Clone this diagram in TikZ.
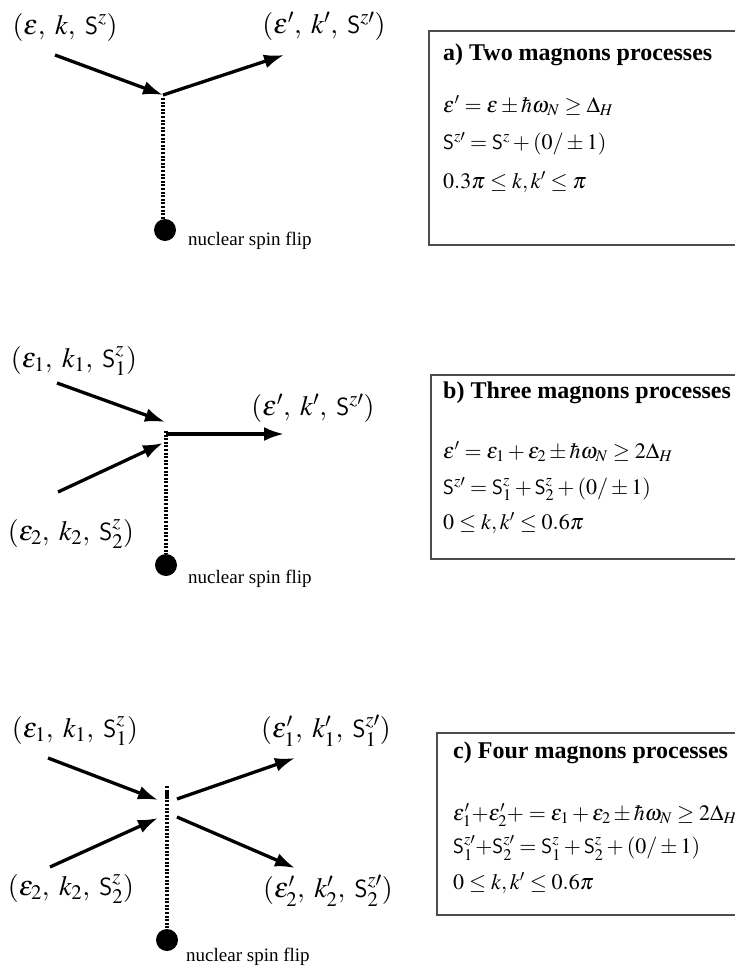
\documentclass[tikz,border=0pt]{standalone}
\usepackage{mathptmx}
\usepackage{fontspec}
\setmainfont{Liberation Serif}
\setsansfont{Liberation Sans}
\usetikzlibrary{arrows.meta}
\newcommand{\Sv}{\mathsf{S}}
\newcommand{\cm}{,\mkern4mu}
\begin{document}
\begin{tikzpicture}[x=1pt,y=-1pt]
\tikzset{
 arr/.style={line width=3.3pt, -{Latex[length=20pt,width=14pt]}},
 dots/.style={line width=3.4pt, dash pattern=on 2pt off 1.6pt},
 lbl/.style={font=\fontsize{28}{33}\selectfont, inner sep=0pt},
 boxs/.style={draw=black!70, line width=1.4pt},
 ttl/.style={font=\fontsize{24}{29}\selectfont\bfseries, anchor=west, inner sep=0pt},
 eq/.style={font=\fontsize{22}{26}\selectfont, anchor=west, inner sep=0pt},
 nsf/.style={font=\fontsize{19}{22}\selectfont, anchor=west, inner sep=0pt},
 spin/.style={circle, fill=black, minimum size=22pt, inner sep=0pt},
}
\clip (0,0) rectangle (735,969);
\fill[white] (0,0) rectangle (735,969);

% ---------------- a) ----------------
\node[lbl] (a1) at (65,27) {$(\varepsilon\cm k\cm \Sv^{z})$};
\node[lbl] (a2) at (324,26) {$(\varepsilon'\cm k'\cm \Sv^{z\prime})$};
\coordinate (aS) at (55,55);
\coordinate (aV) at (163,95);
\coordinate (aE) at (284,55);
\node[spin] (aD) at (165,230) {};
\node[nsf] (aN) at (188,241) {nuclear spin flip};
\draw[arr] (aS) -- (aV);
\draw[arr] (aV) -- (aE);
\draw[dots] ([yshift=-3pt]aV) -- (aV |- aD.north);

\draw[boxs] (429,31) rectangle (760,245);
\node[ttl] (aT) at (443,55) {a) Two magnons processes};
\node[eq] (aE1) at (443,106) {$\varepsilon' = \varepsilon \pm \hbar\omega_{N} \geq \Delta_{H}$};
\node[eq] (aE2) at (443,144) {$\Sv^{z\prime} = \Sv^{z} + (0/\pm 1)$};
\node[eq] (aE3) at (443,182) {$0.3\pi \leq k, k' \leq \pi$};

% ---------------- b) ----------------
\node[lbl] (b1) at (74,361) {$(\varepsilon_{1}\cm k_{1}\cm \Sv^{z}_{1})$};
\node[lbl] (b2) at (313,408) {$(\varepsilon'\cm k'\cm \Sv^{z\prime})$};
\node[lbl] (b3) at (71,534) {$(\varepsilon_{2}\cm k_{2}\cm \Sv^{z}_{2})$};
\coordinate (bS1) at (57,383);
\coordinate (bS2) at (58,492);
\coordinate (bV1) at (165,422);
\coordinate (bV2) at (163,443);
\coordinate (bH) at (166,434);
\coordinate (bE) at (284,434);
\node[spin] (bD) at (166,565) {};
\node[nsf] (bN) at (188,579) {nuclear spin flip};
\draw[arr] (bS1) -- (bV1);
\draw[arr] (bS2) -- (bV2);
\draw[arr] (bH) -- (bE);
\draw[dots] ([yshift=3pt]bH) -- (bH |- bD.north);

\draw[boxs] (431,375) rectangle (760,559);
\node[ttl] (bT) at (443,393) {b) Three magnons processes};
\node[eq] (bE1) at (443,452) {$\varepsilon' = \varepsilon_{1} + \varepsilon_{2} \pm \hbar\omega_{N} \geq 2\Delta_{H}$};
\node[eq] (bE2) at (443,489) {$\Sv^{z\prime} = \Sv^{z}_{1} + \Sv^{z}_{2} + (0/\pm 1)$};
\node[eq] (bE3) at (443,523) {$0 \leq k, k' \leq 0.6\pi$};

% ---------------- c) ----------------
\node[lbl] (c1) at (75,731) {$(\varepsilon_{1}\cm k_{1}\cm \Sv^{z}_{1})$};
\node[lbl] (c2) at (326,731) {$(\varepsilon_{1}'\cm k_{1}'\cm \Sv^{z\prime}_{1})$};
\node[lbl] (c3) at (71,889) {$(\varepsilon_{2}\cm k_{2}\cm \Sv^{z}_{2})$};
\node[lbl] (c4) at (328,891) {$(\varepsilon_{2}'\cm k_{2}'\cm \Sv^{z\prime}_{2})$};
\coordinate (cS1) at (48,758);
\coordinate (cS2) at (50,867);
\coordinate (cV1) at (158,800);
\coordinate (cV2) at (158,818);
\coordinate (cO1) at (177,799);
\coordinate (cO2) at (177,817);
\coordinate (cE1) at (295,758);
\coordinate (cE2) at (295,868);
\coordinate (cT) at (167,797);
\node[spin] (cD) at (167,940) {};
\node[nsf] (cN) at (186,957) {nuclear spin flip};
\draw[arr] (cS1) -- (cV1);
\draw[arr] (cS2) -- (cV2);
\draw[arr] (cO1) -- (cE1);
\draw[arr] (cO2) -- (cE2);
\draw[dots] (cT) -- ([yshift=5pt]cT);
\draw[dots] ([yshift=11pt]cT) -- (cT |- cD.north);

\draw[boxs] (437,733) rectangle (760,915);
\node[ttl] (cTt) at (453,753) {c) Four magnons processes};
\node[eq] (cE1l) at (453,815) {$\varepsilon_{1}' {+} \varepsilon_{2}' {+} = \varepsilon_{1} + \varepsilon_{2} \pm \hbar\omega_{N} \geq 2\Delta_{H}$};
\node[eq] (cE2l) at (453,848) {$\Sv^{z\prime}_{1} {+} \Sv^{z\prime}_{2} = \Sv^{z}_{1} + \Sv^{z}_{2} + (0/\pm 1)$};
\node[eq] (cE3l) at (453,883) {$0 \leq k, k' \leq 0.6\pi$};
\end{tikzpicture}
\end{document}
